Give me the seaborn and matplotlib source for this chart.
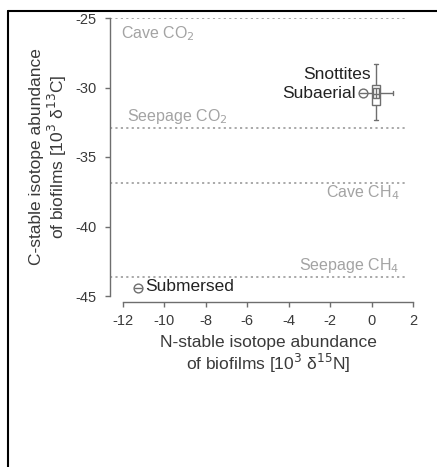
import matplotlib
matplotlib.use("Agg")
import matplotlib.pyplot as plt
from matplotlib.lines import Line2D
import numpy as np
import pandas as pd
import seaborn as sns

# ---------------- data ----------------
# Snottites: five-number summaries (min, Q1, median, Q3, max)
snottites_c13 = [-32.35, -31.26, -30.5, -29.8, -28.3]
snottites_n15 = [-0.4, 0.05, 0.2, 0.38, 1.05]
snottites_n15_pos = 0.2
snottites_c13_pos = -30.4

point_labels = ["Subaerial", "Submersed"]
point_n15 = [-0.4, -11.28]
point_c13 = [-30.4, -44.4]

ref_labels = ["Cave CO$_2$", "Seepage CO$_2$", "Cave CH$_4$", "Seepage CH$_4$"]
ref_c13 = [-25.0, -32.9, -36.9, -43.6]

x_ticks = [-12, -10, -8, -6, -4, -2, 0, 2]
y_ticks = [-45, -40, -35, -30, -25]

# ---------------- style ----------------
sns.set_theme(style="ticks")
plt.rcParams["font.family"] = ["Liberation Sans", "DejaVu Sans"]

W, H = 437, 467
fig = plt.figure(figsize=(W / 100, H / 100), dpi=100)
ax = fig.add_axes([110 / W, 1 - 296 / H, (413 - 110) / W, (296 - 18) / H])

axis_col = "#6e6e6e"
text_col = "#3a3a3a"
ref_col = "#a3a3a3"

# reference lines
xmin_lim, xmax_lim = -12.63, 2.0
for c in ref_c13:
    ax.hlines(c, xmin_lim, 1.72, colors=ref_col, linestyles=(0, (1.2, 1.8)), lw=1.3, zorder=1)

ref_pos = [(-12.1, -26.15, "left"), (-11.8, -32.1, "left"), (1.35, -37.6, "right"), (1.35, -42.8, "right")]
for lab, (xx, yy, ha) in zip(ref_labels, ref_pos):
    ax.text(xx, yy, lab, color=ref_col, fontsize=11.5, ha=ha, va="center")

box_kw = dict(
    boxprops=dict(facecolor="white", edgecolor=axis_col, linewidth=1),
    whiskerprops=dict(color=axis_col, linewidth=1),
    capprops=dict(color=axis_col, linewidth=1),
    medianprops=dict(color=axis_col, linewidth=1),
    whis=(0, 100), fliersize=0,
)
# vertical box: delta13C
sns.boxplot(x=[snottites_n15_pos] * len(snottites_c13), y=snottites_c13, orient="x",
            native_scale=True, width=0.38, ax=ax, **box_kw)
# horizontal box: delta15N
sns.boxplot(x=snottites_n15, y=[snottites_c13_pos] * len(snottites_n15), orient="y",
            native_scale=True, width=0.7, ax=ax, **box_kw)

# points
pts = pd.DataFrame({"n15": point_n15, "c13": point_c13, "label": point_labels})
sns.scatterplot(data=pts, x="n15", y="c13", marker="o", s=40, facecolor="white",
                edgecolor=axis_col, linewidth=1.0, ax=ax, zorder=5, legend=False)
sns.scatterplot(data=pts, x="n15", y="c13", marker="_", s=28, color=axis_col,
                linewidth=1.0, ax=ax, zorder=6, legend=False)

ax.text(-0.02, -29.1, "Snottites", fontsize=12.5, color="#222222", ha="right", va="center")
ax.text(-0.75, -30.4, "Subaerial", fontsize=12.5, color="#222222", ha="right", va="center")
ax.text(-10.95, -44.3, "Submersed", fontsize=12.5, color="#222222", ha="left", va="center")

ax.set_xlim(xmin_lim, xmax_lim)
ax.set_ylim(-45, -25)
ax.set_xticks(x_ticks)
ax.set_xticklabels([str(t) for t in x_ticks])
ax.set_yticks(y_ticks)
ax.set_yticklabels([str(t) for t in y_ticks])

sns.despine(ax=ax, offset={"bottom": 4.3, "left": 0})
ax.spines["bottom"].set_bounds(-12, 2)
ax.spines["left"].set_bounds(-45, -25)
for s in ["left", "bottom"]:
    ax.spines[s].set_color(axis_col)
    ax.spines[s].set_linewidth(1)
ax.tick_params(axis="both", colors=axis_col, labelcolor=text_col, labelsize=10.5,
               length=3.5, width=1, direction="out")
ax.tick_params(axis="y", pad=6)
ax.tick_params(axis="x", pad=5)

ax.set_xlabel("N-stable isotope abundance\nof biofilms [10$^3$ δ$^{15}$N]", fontsize=12.5,
              color=text_col, linespacing=1.1)
ax.set_ylabel("C-stable isotope abundance\nof biofilms [10$^3$ δ$^{13}$C]", fontsize=12.5,
              color=text_col, linespacing=1.1)
ax.xaxis.set_label_coords((268 - 110) / 303, -0.14)
ax.yaxis.set_label_coords(-0.135, 0.5)
ax.set_facecolor("none")

# frame lines (top and left)
fig.add_artist(Line2D([8 / W, 1], [1 - 11 / H, 1 - 11 / H], transform=fig.transFigure,
                      color="black", lw=1.5))
fig.add_artist(Line2D([8 / W, 8 / W], [0, 1 - 11 / H], transform=fig.transFigure,
                      color="black", lw=1.5))

fig.savefig("out.png", dpi=100)
